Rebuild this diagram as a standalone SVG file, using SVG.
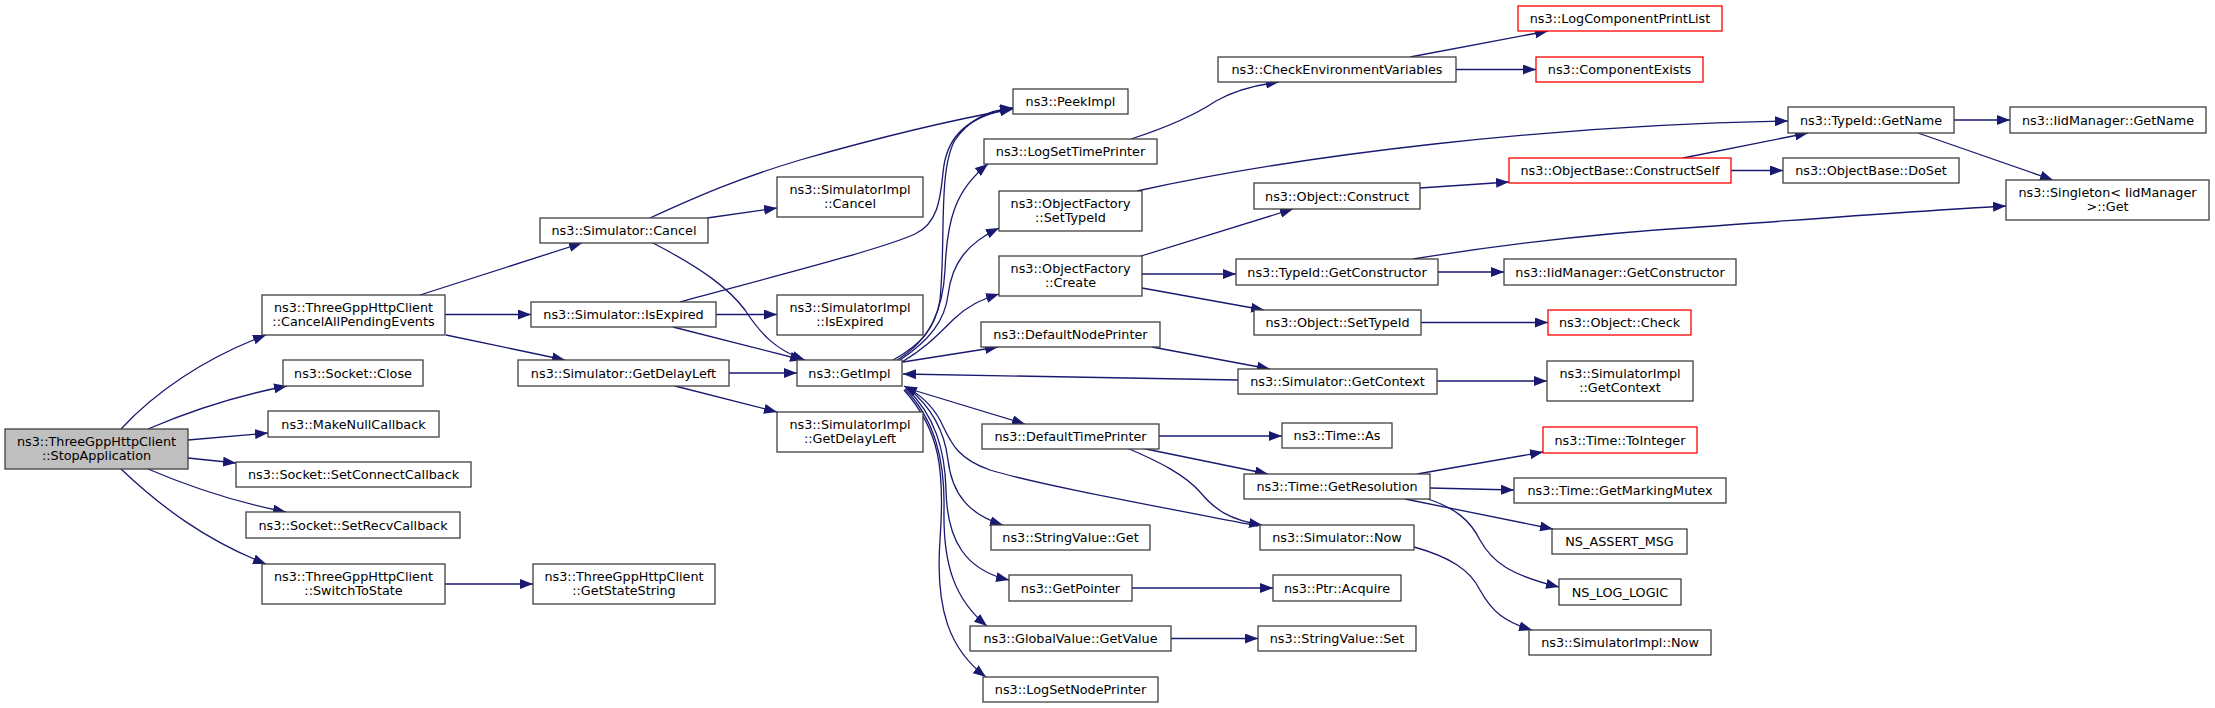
<svg xmlns="http://www.w3.org/2000/svg" width="2215" height="708" viewBox="0 0 2215 708">
<defs>
<marker id="arr" markerUnits="userSpaceOnUse" viewBox="0 0 13 10" markerWidth="13" markerHeight="10" refX="13" refY="5" orient="auto">
<path d="M0,0 L13,5 L0,10 z" fill="#191970"/>
</marker>
<style>
.node rect{fill:#fff;stroke:#404040;stroke-width:1.3}
.node.red rect{stroke:#ff0000}
.node.root rect{fill:#bfbfbf}
text{font-family:"DejaVu Sans",sans-serif;font-size:12.8px;text-anchor:middle;fill:#000}
#edges path{fill:none;stroke:#191970;stroke-width:1.3;marker-end:url(#arr)}
</style>
</defs>
<rect width="2215" height="708" fill="#fff"/>
<g id="edges">
<path d="M121,429 C155,392 205,358 266,335"/>
<path d="M148,429 C190,411 235,396 287,386"/>
<path d="M188,440 L268,433"/>
<path d="M188,458 L236,463"/>
<path d="M148,469 C190,487 235,502 286,512"/>
<path d="M121,469 C160,506 205,540 266,564"/>
<path d="M445,584 L533,584"/>
<path d="M420,295 L582,243"/>
<path d="M445,314.5 L531,314.5"/>
<path d="M446,335 L565,360"/>
<path d="M650,218 C700,195 740,178 800,160 C870,140 940,122 1013,109"/>
<path d="M707,218 L777,208"/>
<path d="M653,243 C705,270 730,290 745,310 C760,333 775,350 805,360"/>
<path d="M680,302 C760,280 880,250 915,234 C945,220 940,180 945,160 C952,130 975,115 1013,108"/>
<path d="M716,314.5 L777,314.5"/>
<path d="M673,327 L803,360"/>
<path d="M729,373 L797,373"/>
<path d="M675,386 L777,412"/>
<path d="M893,360 C920,345 935,330 940,300 C946,240 938,170 955,140 C970,118 990,110 1013,108"/>
<path d="M897,360 C930,340 943,310 945,270 C947,220 955,190 988,164"/>
<path d="M900,360 C930,340 945,320 948,295 C952,262 968,243 999,228"/>
<path d="M902,362 C930,345 942,330 955,318 C968,306 980,300 999,294"/>
<path d="M903,362 L998,347"/>
<path d="M913,390 L1025,424"/>
<path d="M908,388 C935,410 945,435 948,460 C952,495 970,515 1003,525"/>
<path d="M906,388 C935,415 945,450 946,490 C947,540 965,570 1009,580"/>
<path d="M905,389 C935,420 945,460 944,510 C943,565 955,600 987,626"/>
<path d="M904,390 C940,430 945,470 940,540 C935,610 950,650 986,677"/>
<path d="M1238,380 L903,374"/>
<path d="M1258,526 C1150,505 1040,485 990,470 C955,458 950,440 940,420 C930,402 918,393 904,386"/>
<path d="M1131,139 C1165,128 1195,115 1216,101 C1235,90 1255,85 1279,82"/>
<path d="M1410,57 L1548,31"/>
<path d="M1456,69.5 L1536,69.5"/>
<path d="M1137,191 C1300,155 1550,125 1788,121"/>
<path d="M1141,256 L1293,209"/>
<path d="M1142,274 L1236,274"/>
<path d="M1142,288 L1264,310"/>
<path d="M1420,188 L1509,182"/>
<path d="M1683,158 L1808,133"/>
<path d="M1731,170.5 L1783,170.5"/>
<path d="M1438,272 L1504,272"/>
<path d="M1413,259 C1500,245 1600,233 1700,227 C1800,220 1900,212 2006,206"/>
<path d="M1421,322.5 L1548,322.5"/>
<path d="M1954,120 L2010,120"/>
<path d="M1918,133 L2053,180"/>
<path d="M1152,347 L1270,369"/>
<path d="M1437,381 L1547,381"/>
<path d="M1159,436 L1282,436"/>
<path d="M1141,448 L1268,474"/>
<path d="M1127,448 C1160,462 1185,475 1200,492 C1215,510 1230,520 1262,525"/>
<path d="M1417,474 L1543,452"/>
<path d="M1430,488 L1514,490"/>
<path d="M1405,499 L1553,529"/>
<path d="M1428,499 C1455,508 1470,520 1480,540 C1492,562 1510,575 1559,587"/>
<path d="M1414,547 C1450,557 1470,570 1480,590 C1492,612 1505,622 1532,630"/>
<path d="M1132,588 L1273,588"/>
<path d="M1171,638.5 L1258,638.5"/>
</g>
<g id="n0" class="node root"><rect x="5" y="429" width="183" height="40"/><text x="96.5" y="446">ns3::ThreeGppHttpClient</text><text x="96.5" y="460">::StopApplication</text></g>
<g id="n1" class="node"><rect x="262" y="295" width="183" height="40"/><text x="353.5" y="312">ns3::ThreeGppHttpClient</text><text x="353.5" y="326">::CancelAllPendingEvents</text></g>
<g id="n2" class="node"><rect x="283" y="360" width="140" height="26"/><text x="353" y="377.5">ns3::Socket::Close</text></g>
<g id="n3" class="node"><rect x="268" y="411" width="171" height="26"/><text x="353.5" y="428.5">ns3::MakeNullCallback</text></g>
<g id="n4" class="node"><rect x="236" y="462" width="235" height="25"/><text x="353.5" y="479">ns3::Socket::SetConnectCallback</text></g>
<g id="n5" class="node"><rect x="246" y="512" width="214" height="26"/><text x="353" y="529.5">ns3::Socket::SetRecvCallback</text></g>
<g id="n6" class="node"><rect x="262" y="564" width="183" height="40"/><text x="353.5" y="581">ns3::ThreeGppHttpClient</text><text x="353.5" y="595">::SwitchToState</text></g>
<g id="n7" class="node"><rect x="540" y="218" width="168" height="25"/><text x="624" y="235">ns3::Simulator::Cancel</text></g>
<g id="n8" class="node"><rect x="531" y="302" width="185" height="25"/><text x="623.5" y="319">ns3::Simulator::IsExpired</text></g>
<g id="n9" class="node"><rect x="518" y="360" width="211" height="26"/><text x="623.5" y="377.5">ns3::Simulator::GetDelayLeft</text></g>
<g id="n10" class="node"><rect x="533" y="564" width="182" height="40"/><text x="624" y="581">ns3::ThreeGppHttpClient</text><text x="624" y="595">::GetStateString</text></g>
<g id="n11" class="node"><rect x="777" y="177" width="146" height="40"/><text x="850" y="194">ns3::SimulatorImpl</text><text x="850" y="208">::Cancel</text></g>
<g id="n12" class="node"><rect x="777" y="295" width="146" height="40"/><text x="850" y="312">ns3::SimulatorImpl</text><text x="850" y="326">::IsExpired</text></g>
<g id="n13" class="node"><rect x="797" y="360" width="105" height="26"/><text x="849.5" y="377.5">ns3::GetImpl</text></g>
<g id="n14" class="node"><rect x="777" y="412" width="146" height="40"/><text x="850" y="429">ns3::SimulatorImpl</text><text x="850" y="443">::GetDelayLeft</text></g>
<g id="n15" class="node"><rect x="1013" y="89" width="115" height="25"/><text x="1070.5" y="106">ns3::PeekImpl</text></g>
<g id="n16" class="node"><rect x="984" y="139" width="173" height="25"/><text x="1070.5" y="156">ns3::LogSetTimePrinter</text></g>
<g id="n17" class="node"><rect x="999" y="191" width="143" height="40"/><text x="1070.5" y="208">ns3::ObjectFactory</text><text x="1070.5" y="222">::SetTypeId</text></g>
<g id="n18" class="node"><rect x="999" y="256" width="143" height="40"/><text x="1070.5" y="273">ns3::ObjectFactory</text><text x="1070.5" y="287">::Create</text></g>
<g id="n19" class="node"><rect x="981" y="322" width="179" height="25"/><text x="1070.5" y="339">ns3::DefaultNodePrinter</text></g>
<g id="n20" class="node"><rect x="982" y="424" width="177" height="25"/><text x="1070.5" y="441">ns3::DefaultTimePrinter</text></g>
<g id="n21" class="node"><rect x="991" y="525" width="159" height="25"/><text x="1070.5" y="542">ns3::StringValue::Get</text></g>
<g id="n22" class="node"><rect x="1009" y="575" width="123" height="26"/><text x="1070.5" y="592.5">ns3::GetPointer</text></g>
<g id="n23" class="node"><rect x="970" y="626" width="201" height="25"/><text x="1070.5" y="643">ns3::GlobalValue::GetValue</text></g>
<g id="n24" class="node"><rect x="983" y="677" width="175" height="25"/><text x="1070.5" y="694">ns3::LogSetNodePrinter</text></g>
<g id="n25" class="node"><rect x="1218" y="57" width="238" height="25"/><text x="1337" y="74">ns3::CheckEnvironmentVariables</text></g>
<g id="n26" class="node"><rect x="1254" y="183" width="166" height="26"/><text x="1337" y="200.5">ns3::Object::Construct</text></g>
<g id="n27" class="node"><rect x="1236" y="259" width="202" height="26"/><text x="1337" y="276.5">ns3::TypeId::GetConstructor</text></g>
<g id="n28" class="node"><rect x="1254" y="310" width="167" height="25"/><text x="1337.5" y="327">ns3::Object::SetTypeId</text></g>
<g id="n29" class="node"><rect x="1238" y="369" width="199" height="25"/><text x="1337.5" y="386">ns3::Simulator::GetContext</text></g>
<g id="n30" class="node"><rect x="1282" y="423" width="110" height="25"/><text x="1337" y="440">ns3::Time::As</text></g>
<g id="n31" class="node"><rect x="1244" y="474" width="186" height="25"/><text x="1337" y="491">ns3::Time::GetResolution</text></g>
<g id="n32" class="node"><rect x="1260" y="525" width="154" height="25"/><text x="1337" y="542">ns3::Simulator::Now</text></g>
<g id="n33" class="node"><rect x="1273" y="575" width="128" height="26"/><text x="1337" y="592.5">ns3::Ptr::Acquire</text></g>
<g id="n34" class="node"><rect x="1258" y="626" width="158" height="25"/><text x="1337" y="643">ns3::StringValue::Set</text></g>
<g id="n35" class="node red"><rect x="1518" y="6" width="204" height="25"/><text x="1620" y="23">ns3::LogComponentPrintList</text></g>
<g id="n36" class="node red"><rect x="1536" y="57" width="167" height="25"/><text x="1619.5" y="74">ns3::ComponentExists</text></g>
<g id="n37" class="node red"><rect x="1509" y="158" width="222" height="25"/><text x="1620" y="175">ns3::ObjectBase::ConstructSelf</text></g>
<g id="n38" class="node"><rect x="1504" y="259" width="232" height="26"/><text x="1620" y="276.5">ns3::IidManager::GetConstructor</text></g>
<g id="n39" class="node red"><rect x="1548" y="310" width="143" height="25"/><text x="1619.5" y="327">ns3::Object::Check</text></g>
<g id="n40" class="node"><rect x="1547" y="361" width="146" height="40"/><text x="1620" y="378">ns3::SimulatorImpl</text><text x="1620" y="392">::GetContext</text></g>
<g id="n41" class="node red"><rect x="1543" y="427" width="154" height="26"/><text x="1620" y="444.5">ns3::Time::ToInteger</text></g>
<g id="n42" class="node"><rect x="1514" y="478" width="212" height="25"/><text x="1620" y="495">ns3::Time::GetMarkingMutex</text></g>
<g id="n43" class="node"><rect x="1552" y="529" width="135" height="25"/><text x="1619.5" y="546">NS_ASSERT_MSG</text></g>
<g id="n44" class="node"><rect x="1559" y="579" width="122" height="26"/><text x="1620" y="596.5">NS_LOG_LOGIC</text></g>
<g id="n45" class="node"><rect x="1529" y="630" width="182" height="25"/><text x="1620" y="647">ns3::SimulatorImpl::Now</text></g>
<g id="n46" class="node"><rect x="1788" y="107" width="166" height="26"/><text x="1871" y="124.5">ns3::TypeId::GetName</text></g>
<g id="n47" class="node"><rect x="1783" y="158" width="176" height="25"/><text x="1871" y="175">ns3::ObjectBase::DoSet</text></g>
<g id="n48" class="node"><rect x="2010" y="107" width="196" height="26"/><text x="2108" y="124.5">ns3::IidManager::GetName</text></g>
<g id="n49" class="node"><rect x="2006" y="180" width="203" height="40"/><text x="2107.5" y="197">ns3::Singleton&lt; IidManager</text><text x="2107.5" y="211">&gt;::Get</text></g>
</svg>
